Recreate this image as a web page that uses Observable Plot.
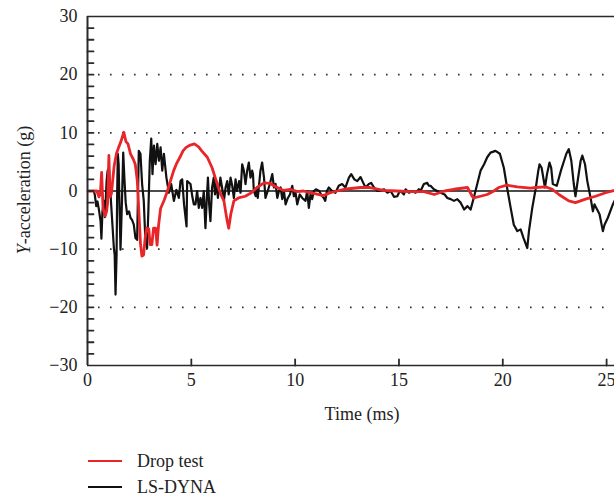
<!DOCTYPE html>
<html>
<head>
<meta charset="utf-8">
<script src="https://cdn.jsdelivr.net/npm/d3@7"></script>
<script src="https://cdn.jsdelivr.net/npm/@observablehq/plot@0.6"></script>
<style>
  html, body { margin: 0; padding: 0; background: #fff; overflow: hidden; }
  #chart { width: 614px; }
  .legend { font-family: "Liberation Serif", "DejaVu Serif", serif; font-size: 18px; color: #222; padding-top: 18px; }
  .legend .row { display: flex; align-items: center; height: 26px; }
  .legend .sw { width: 34px; height: 0; margin-left: 88px; margin-right: 15px; }
</style>
</head>
<body>
<div id="chart"></div>
<script>
// Drop test (red) — time in ms, acceleration in g
const dropTime = [0, 0.3, 0.45, 0.55, 0.62, 0.68, 0.75, 0.85, 0.92, 0.97, 1.03, 1.08, 1.15, 1.28, 1.4, 1.5, 1.6, 1.75, 1.85, 1.95, 2.07, 2.2, 2.3, 2.4, 2.48, 2.55, 2.62, 2.7, 2.78, 2.85, 2.95, 3.02, 3.1, 3.18, 3.28, 3.35, 3.42, 3.52, 3.7, 3.85, 4.0, 4.15, 4.3, 4.45, 4.6, 4.75, 4.95, 5.15, 5.35, 5.5, 5.77, 6.0, 6.15, 6.3, 6.45, 6.57, 6.65, 6.73, 6.8, 6.9, 7.05, 7.27, 7.6, 7.85, 8.17, 8.5, 8.8, 9.14, 9.45, 9.77, 10.1, 10.4, 10.7, 11.0, 11.35, 11.7, 12.35, 13.15, 13.6, 14.27, 14.9, 15.56, 16.2, 16.7, 17.2, 17.65, 18.3, 18.53, 18.6, 18.93, 19.25, 19.57, 19.8, 20.2, 20.7, 21.34, 21.58, 22.06, 22.38, 22.7, 23.18, 23.5, 23.98, 24.47, 24.95, 25.38];
const dropAccel = [0, 0, 0, -1, -0.5, 3.2, -3, -4.3, -3.5, -2, 6.1, -1, -0.5, 4.2, 6.5, 7.5, 8.4, 10.1, 8.5, 8.1, 6.4, 5.5, 4.6, 1.7, -4, -9, -11.2, -11, -8, -6.4, -6.5, -9.2, -9.2, -6.4, -6.4, -9.3, -6, -3, -1.5, 0, 1.8, 3.5, 4.8, 5.8, 6.9, 7.5, 7.9, 8.1, 7.6, 6.9, 5.8, 4.0, 2.3, 0.6, -0.8, -1.7, -3.5, -5.2, -6.4, -4, -1.7, -1.2, -0.9, -0.4, 0.6, 1.4, 1.3, 0.6, 0.1, 0.3, -0.1, 0, -0.3, -0.5, -0.8, -0.3, 0.3, 0.6, 0.6, 0.1, 0, -0.1, -0.1, -0.6, 0, 0.3, 0.6, -0.9, -1.2, -0.9, -0.6, 0, 0.6, 1.0, 0.7, 0.5, 0.6, 0.7, 0.3, -0.6, -1.7, -2.0, -1.4, -0.9, -0.3, 0.1];

// LS-DYNA (black)
const dynaTime = [0, 0.3, 0.35, 0.42, 0.48, 0.55, 0.63, 0.67, 0.72, 0.79, 0.84, 0.92, 0.97, 1.03, 1.08, 1.12, 1.19, 1.27, 1.31, 1.35, 1.4, 1.43, 1.46, 1.5, 1.55, 1.59, 1.66, 1.72, 1.78, 1.84, 1.91, 2.0, 2.07, 2.15, 2.23, 2.31, 2.39, 2.43, 2.47, 2.55, 2.63, 2.71, 2.79, 2.87, 2.93, 3.0, 3.07, 3.13, 3.2, 3.28, 3.36, 3.44, 3.52, 3.6, 3.68, 3.8, 3.92, 4.03, 4.16, 4.28, 4.4, 4.48, 4.56, 4.65, 4.77, 4.8, 4.96, 5.05, 5.12, 5.2, 5.28, 5.36, 5.44, 5.52, 5.6, 5.68, 5.74, 5.8, 5.86, 5.92, 6.0, 6.08, 6.14, 6.2, 6.28, 6.4, 6.48, 6.57, 6.65, 6.73, 6.8, 6.89, 6.97, 7.05, 7.13, 7.2, 7.3, 7.37, 7.45, 7.53, 7.61, 7.69, 7.77, 7.85, 7.93, 7.97, 8.01, 8.1, 8.15, 8.2, 8.33, 8.41, 8.5, 8.57, 8.68, 8.78, 8.9, 8.98, 9.06, 9.14, 9.22, 9.3, 9.38, 9.46, 9.54, 9.65, 9.75, 9.86, 9.94, 10.02, 10.1, 10.22, 10.34, 10.5, 10.58, 10.66, 10.74, 10.82, 10.9, 11.0, 11.16, 11.25, 11.38, 11.45, 11.53, 11.62, 11.78, 11.94, 12.1, 12.26, 12.42, 12.59, 12.7, 12.85, 12.99, 13.15, 13.28, 13.39, 13.55, 13.66, 13.8, 13.96, 14.12, 14.28, 14.44, 14.6, 14.76, 14.92, 15.0, 15.08, 15.24, 15.32, 15.48, 15.64, 15.8, 15.96, 16.04, 16.2, 16.36, 16.44, 16.52, 16.68, 16.84, 17.0, 17.2, 17.33, 17.49, 17.65, 17.81, 17.97, 18.14, 18.3, 18.45, 18.6, 18.77, 18.93, 19.1, 19.25, 19.41, 19.65, 19.86, 20.05, 20.22, 20.38, 20.53, 20.7, 20.86, 21.0, 21.18, 21.26, 21.42, 21.58, 21.71, 21.77, 21.87, 22.03, 22.13, 22.25, 22.33, 22.41, 22.6, 22.8, 23.06, 23.18, 23.3, 23.42, 23.5, 23.63, 23.75, 23.83, 23.96, 24.07, 24.23, 24.34, 24.42, 24.5, 24.66, 24.82, 24.9, 25.06, 25.3, 25.38];
const dynaAccel = [0, 0, -0.6, -2.6, -1.8, -3.2, -5.2, -8.2, -3.5, -1.7, -4.5, 1.7, 3.5, 4.0, 1.0, -1.2, -5.2, -9.8, -11, -17.8, -11, 0, 6.4, 4.6, -4, -10.1, -1.7, 6.6, 2, -2, -4, -3.5, -4.6, -5, -5.8, -8.1, -8.4, -1, 6.9, 6.4, 1.2, -1.7, -8.7, -9.8, -3.5, 5.2, 9.0, 2.9, 7.8, 4.6, 8.1, 5.2, 7.5, 3.5, 6.4, 2.3, -0.3, 1.2, -1.7, 0.2, -1.2, 1.7, 2.0, -2.3, -6.1, 1.7, 1.2, -1, -2.3, -2.3, 0, -2.9, -1.2, -2.9, 0, -6.4, -1.7, 2.3, -2.3, -5.2, 0.6, 2.3, -0.6, 1.7, -1.2, 2.3, 0.6, -1.7, 0.6, 1.7, -0.6, 2.3, 0.9, -1.2, 2.0, 0, 1.7, -0.3, 4.6, 3.5, 1.2, 3.5, 4.9, 2.3, 3.5, 2.9, 0, -0.9, 0.6, -1.2, 3.5, 4.9, 2.3, -1.2, 0, 1.2, 2.9, 0.6, 1.2, -1.2, 0, 0.6, -1.4, 0, -2.3, -1.2, -0.6, 0.9, -0.9, -0.3, -2.3, -0.6, -1.2, -1.7, 0, -2.9, -0.6, -1.4, 0, 0.3, 0, -0.6, -1.2, -1.7, 0, 0.6, 0, -0.3, 0.9, 1.2, 0.6, 2.3, 2.9, 2.0, 1.7, 2.4, 1.4, 0.6, 1.2, 1.4, 0.6, 0, 0.1, 0.3, -0.3, 0, -1.0, -0.9, -0.3, 0, -0.6, 0.3, -0.3, 0, -0.3, 0.3, 0, 1.2, 1.4, 0.9, 0.9, 0.3, 0, -0.3, -0.6, -1.2, -1.4, -1.7, -1.4, -2.0, -3.2, -2.6, -3.2, -1.2, 1.2, 3.5, 4.6, 5.8, 6.6, 6.9, 6.4, 4.0, 0.3, -2.9, -5.8, -6.9, -6.6, -8.1, -9.8, -6.9, -2.9, 0.3, 3.5, 4.6, 4.0, 0.6, 2.9, 4.9, 4.0, 1.2, 0.9, 3.5, 6.4, 7.2, 5.2, 1.2, -0.9, 2.3, 5.2, 6.1, 4.6, 1.7, -1.2, -3.5, -2.3, -2.9, -4.0, -6.9, -5.8, -4.6, -2.3, -1.7];

const xTicks = [0, 5, 10, 15, 20, 25];
const yTicks = [-30, -20, -10, 0, 10, 20, 30];
const yMinorTicks = d3.range(-28, 29, 2);
const gridValues = [-20, -10, 10, 20];
const seriesNames = ["Drop test", "LS-DYNA"];
const seriesColors = ["#e8262a", "#111111"];

const drop = dropTime.map((t, i) => ({t, a: dropAccel[i]}));
const dyna = dynaTime.map((t, i) => ({t, a: dynaAccel[i]}));

const tickShape = { draw(ctx, l) { ctx.moveTo(0, 0); ctx.lineTo(0, -l); } };
const axisColor = "#2a2a2a";

const plot = Plot.plot({
  width: 614,
  height: 430,
  marginLeft: 87,
  marginRight: 0,
  marginTop: 16,
  marginBottom: 65,
  style: { fontFamily: "'Liberation Serif', 'DejaVu Serif', serif", fontSize: "18px", color: "#222", background: "#fff" },
  x: { domain: [0, 25.38] },
  y: { domain: [-30, 30] },
  marks: [
    Plot.ruleY(gridValues, { stroke: "#333", strokeWidth: 1.6, strokeDasharray: "1.6 10.4", strokeDashoffset: -11 }),
    Plot.ruleY([0], { stroke: "#111", strokeWidth: 1.6 }),
    Plot.line(dyna, { x: "t", y: "a", stroke: seriesColors[1], strokeWidth: 2.2, clip: true }),
    Plot.line(drop, { x: "t", y: "a", stroke: seriesColors[0], strokeWidth: 2.8, clip: true }),
    Plot.ruleX([0], { stroke: axisColor, strokeWidth: 2 }),
    Plot.ruleY([-30, 30], { stroke: axisColor, strokeWidth: 1.6 }),
    Plot.vector(yMinorTicks, { y: d => d, frameAnchor: "left", length: 6, rotate: 90, anchor: "start", shape: tickShape, stroke: axisColor, strokeWidth: 1.8 }),
    Plot.vector(xTicks.slice(1), { x: d => d, frameAnchor: "bottom", length: 6, rotate: 0, anchor: "start", shape: tickShape, stroke: axisColor, strokeWidth: 1.8 }),
    Plot.axisY({ ticks: yTicks, tickSize: 0, tickPadding: 10, label: null, fontSize: 18 }),
    Plot.axisX({ ticks: xTicks, tickSize: 0, tickPadding: 8, label: null, fontSize: 18 })
  ]
});

document.getElementById("chart").appendChild(plot);

// axis titles
const svg = d3.select(plot);
const ylab = svg.append("text")
  .attr("transform", "translate(30,190) rotate(-90)")
  .attr("text-anchor", "middle")
  .attr("font-size", 18)
  .attr("fill", "#222");
ylab.append("tspan").attr("font-style", "italic").text("Y");
ylab.append("tspan").text("-acceleration (g)");
svg.append("text")
  .attr("x", 362).attr("y", 420)
  .attr("text-anchor", "middle")
  .attr("font-size", 18)
  .attr("fill", "#222")
  .text("Time (ms)");

// legend
const legend = d3.select("#chart").append("div").attr("class", "legend");
seriesNames.forEach((name, i) => {
  const row = legend.append("div").attr("class", "row");
  row.append("span").attr("class", "sw").style("border-top", `2.5px solid ${seriesColors[i]}`);
  row.append("span").text(name);
});
</script>
</body>
</html>
